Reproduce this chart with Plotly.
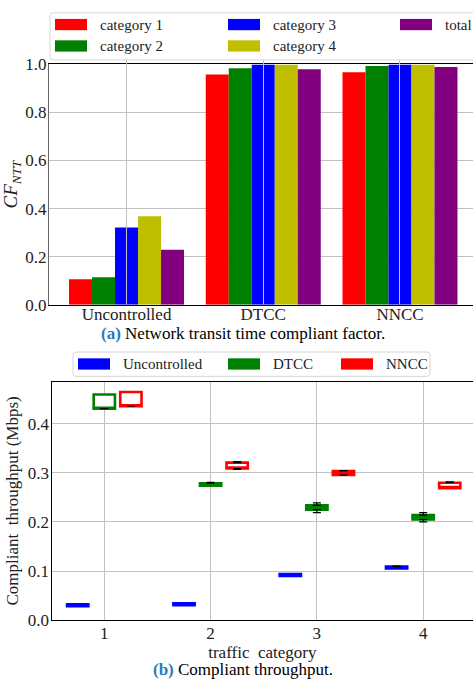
import plotly.graph_objects as go

W, H = 473, 691
FONT = "Liberation Serif"

# ---------------- data: panel (a) ----------------
schemes = ["Uncontrolled", "DTCC", "NNCC"]
bar_series = ["category 1", "category 2", "category 3", "category 4", "total"]
bar_colors = ["#ff0000", "#008000", "#0000ff", "#bfbf00", "#800080"]
cf_cat1 = [0.106, 0.958, 0.967]
cf_cat2 = [0.114, 0.984, 0.993]
cf_cat3 = [0.321, 1.000, 1.000]
cf_cat4 = [0.368, 1.000, 1.000]
cf_total = [0.228, 0.980, 0.989]
y_ticks_a = [0.0, 0.2, 0.4, 0.6, 0.8, 1.0]

# ---------------- data: panel (b) ----------------
traffic_cats = [1, 2, 3, 4]
box_series = ["Uncontrolled", "DTCC", "NNCC"]
box_colors = ["#0000ff", "#008000", "#ff0000"]
box_offsets = [-0.25, 0.0, 0.25]
unc_q1 = [0.028, 0.030, 0.090, 0.105]
unc_med = [0.030, 0.032, 0.092, 0.107]
unc_q3 = [0.032, 0.034, 0.094, 0.109]
unc_low = [None, None, None, None]
unc_up = [None, None, None, 0.110]
dtcc_q1 = [0.431, 0.274, 0.225, 0.205]
dtcc_med = [0.431, 0.277, 0.230, 0.210]
dtcc_q3 = [0.460, 0.279, 0.234, 0.214]
dtcc_low = [0.431, None, 0.219, 0.200]
dtcc_up = [None, 0.281, 0.239, 0.219]
nncc_q1 = [0.436, 0.309, 0.296, 0.269]
nncc_med = [0.436, 0.309, 0.300, 0.269]
nncc_q3 = [0.465, 0.321, 0.304, 0.280]
nncc_low = [0.436, 0.307, 0.296, None]
nncc_up = [None, 0.323, 0.305, 0.282]
y_ticks_b = [0.0, 0.1, 0.2, 0.3, 0.4]


def X(px):
    return px / W


def Y(py):
    return 1 - py / H


fig = go.Figure()

# ---- panel (a) bars ----
for name, col, vals in zip(bar_series, bar_colors,
                           [cf_cat1, cf_cat2, cf_cat3, cf_cat4, cf_total]):
    fig.add_trace(go.Bar(x=schemes, y=vals, name=name, marker_color=col,
                         marker_line_width=0, xaxis="x", yaxis="y",
                         showlegend=False))

# ---- panel (b) boxes ----
box_data = [
    (unc_q1, unc_med, unc_q3, unc_low, unc_up),
    (dtcc_q1, dtcc_med, dtcc_q3, dtcc_low, dtcc_up),
    (nncc_q1, nncc_med, nncc_q3, nncc_low, nncc_up),
]
for name, col, off, (q1, med, q3, low, up) in zip(box_series, box_colors,
                                                   box_offsets, box_data):
    xs = [c + off for c in traffic_cats]
    fig.add_trace(go.Box(x=xs, q1=q1, median=med, q3=q3, lowerfence=q1,
                         upperfence=q3, width=0.2, whiskerwidth=0,
                         line=dict(color=col, width=2.6), fillcolor="white",
                         boxpoints=False, name=name, showlegend=False,
                         xaxis="x2", yaxis="y2", hoverinfo="skip"))
    # whiskers (black, with caps)
    wx, wy, ep, em = [], [], [], []
    for xi, a, b in zip(xs, q3, up):
        if b is not None:
            wx.append(xi); wy.append(a); ep.append(b - a); em.append(0)
    for xi, a, b in zip(xs, q1, low):
        if b is not None:
            wx.append(xi); wy.append(a); ep.append(0); em.append(a - b)
    fig.add_trace(go.Scatter(x=wx, y=wy, mode="markers",
                             marker=dict(size=1, opacity=0),
                             error_y=dict(type="data", symmetric=False,
                                          array=ep, arrayminus=em,
                                          color="black", thickness=1.2,
                                          width=4),
                             showlegend=False, xaxis="x2", yaxis="y2",
                             hoverinfo="skip"))

grid = "#c2c2c2"
tickfont = dict(family=FONT, size=17, color="#222")

fig.update_layout(
    width=W, height=H,
    margin=dict(l=0, r=0, t=0, b=0),
    paper_bgcolor="white", plot_bgcolor="white",
    barmode="group", bargap=0.159, bargroupgap=0,
    font=dict(family=FONT, color="#222"),
    xaxis=dict(domain=[X(49), 1], range=[-0.567, 2.534], anchor="y",
               showgrid=False, ticks="inside", ticklen=247, tickwidth=1.2,
               tickcolor=grid, layer="above traces", ticklabelstandoff=-6,
               showline=True, linecolor="black", linewidth=1.4, mirror=True,
               tickfont=tickfont),
    yaxis=dict(domain=[Y(304), Y(57)], range=[0, 1.0], anchor="x",
               tickvals=y_ticks_a, tickformat=".1f", showgrid=True,
               gridcolor=grid, gridwidth=1.2, zeroline=False,
               showline=True, linecolor="#666", linewidth=1.4, mirror=False,
               ticks="", tickfont=tickfont, ticklabelstandoff=-2,
               title=dict(text="<i>CF</i><sub><i>NTT</i></sub>",
                          font=dict(family=FONT, size=19, color="#222"),
                          standoff=4)),
    xaxis2=dict(domain=[X(51.7), 1], range=[0.505, 4.469], anchor="y2",
                tickvals=traffic_cats, showgrid=True, gridcolor=grid,
                gridwidth=1.2, zeroline=False, ticks="", ticklabelstandoff=-3,
                showline=True, linecolor="black", linewidth=1.4, mirror=True,
                tickfont=tickfont,
                title=dict(text="traffic\u00a0\u00a0category",
                           font=dict(family=FONT, size=17, color="#222"),
                           standoff=0)),
    yaxis2=dict(domain=[Y(628.3), Y(383.3)], range=[0, 0.486], anchor="x2",
                tickvals=y_ticks_b, tickformat=".1f", showgrid=True,
                gridcolor=grid, gridwidth=1.2, zeroline=False, ticks="",
                showline=True, linecolor="black", linewidth=1.4, mirror=False,
                tickfont=tickfont, ticklabelstandoff=-2,
                title=dict(text="Compliant\u00a0\u00a0throughput\u00a0(Mbps)",
                           font=dict(family=FONT, size=17, color="#222"),
                           standoff=4)),
)

shapes = []
annotations = []


def rounded_box(x0, y0, x1, y1, r=3):
    def p(x, y):
        return f"{X(x):.5f},{Y(y):.5f}"
    return (f"M {p(x0 + r, y0)} L {p(x1 - r, y0)} Q {p(x1, y0)} {p(x1, y0 + r)} "
            f"L {p(x1, y1 - r)} Q {p(x1, y1)} {p(x1 - r, y1)} "
            f"L {p(x0 + r, y1)} Q {p(x0, y1)} {p(x0, y1 - r)} "
            f"L {p(x0, y0 + r)} Q {p(x0, y0)} {p(x0 + r, y0)} Z")


legend_font = dict(family=FONT, size=15, color="#222")

# legend (a)
shapes.append(dict(type="path", xref="paper", yref="paper",
                   path=rounded_box(50, 4, 490, 52.3),
                   line=dict(color="#d6d6d6", width=1), fillcolor="white"))
leg_a_pos = [(55, 16), (55, 38), (228, 16), (228, 38), (400, 16)]
for (sx, sy), name, col in zip(leg_a_pos, bar_series, bar_colors):
    shapes.append(dict(type="rect", xref="paper", yref="paper",
                       x0=X(sx), x1=X(sx + 32), y0=Y(sy - 5.8), y1=Y(sy + 5.8),
                       fillcolor=col, line=dict(width=0)))
    annotations.append(dict(x=X(sx + 43), y=Y(sy), xref="paper", yref="paper",
                            text=name, showarrow=False, xanchor="left",
                            yanchor="middle", font=legend_font))

# legend (b)
shapes.append(dict(type="path", xref="paper", yref="paper",
                   path=rounded_box(73, 352.7, 430, 377.7),
                   line=dict(color="#d6d6d6", width=1), fillcolor="white"))
leg_b_x = [78, 228, 341]
for sx, name, col in zip(leg_b_x, box_series, box_colors):
    shapes.append(dict(type="rect", xref="paper", yref="paper",
                       x0=X(sx), x1=X(sx + 32), y0=Y(365 - 5.8), y1=Y(365 + 5.8),
                       fillcolor=col, line=dict(width=0)))
    annotations.append(dict(x=X(sx + 43), y=Y(365), xref="paper", yref="paper",
                            text=name, showarrow=False, xanchor="left",
                            yanchor="middle", font=legend_font))

# captions
cap_font = dict(family=FONT, size=17, color="black")
annotations.append(dict(x=X(243.3), y=Y(334), xref="paper", yref="paper",
                        text="<b><span style='color:#2b7bba'>(a)</span></b> Network transit time compliant factor.",
                        showarrow=False, xanchor="center", yanchor="middle",
                        font=cap_font))
annotations.append(dict(x=X(243.3), y=Y(679), xref="paper", yref="paper",
                        text="<b><span style='color:#2b7bba'>(b)</span></b> Compliant throughput.",
                        showarrow=False, xanchor="center", yanchor="middle",
                        font=cap_font))

fig.update_layout(shapes=shapes, annotations=annotations)
fig.write_html("out.html")
